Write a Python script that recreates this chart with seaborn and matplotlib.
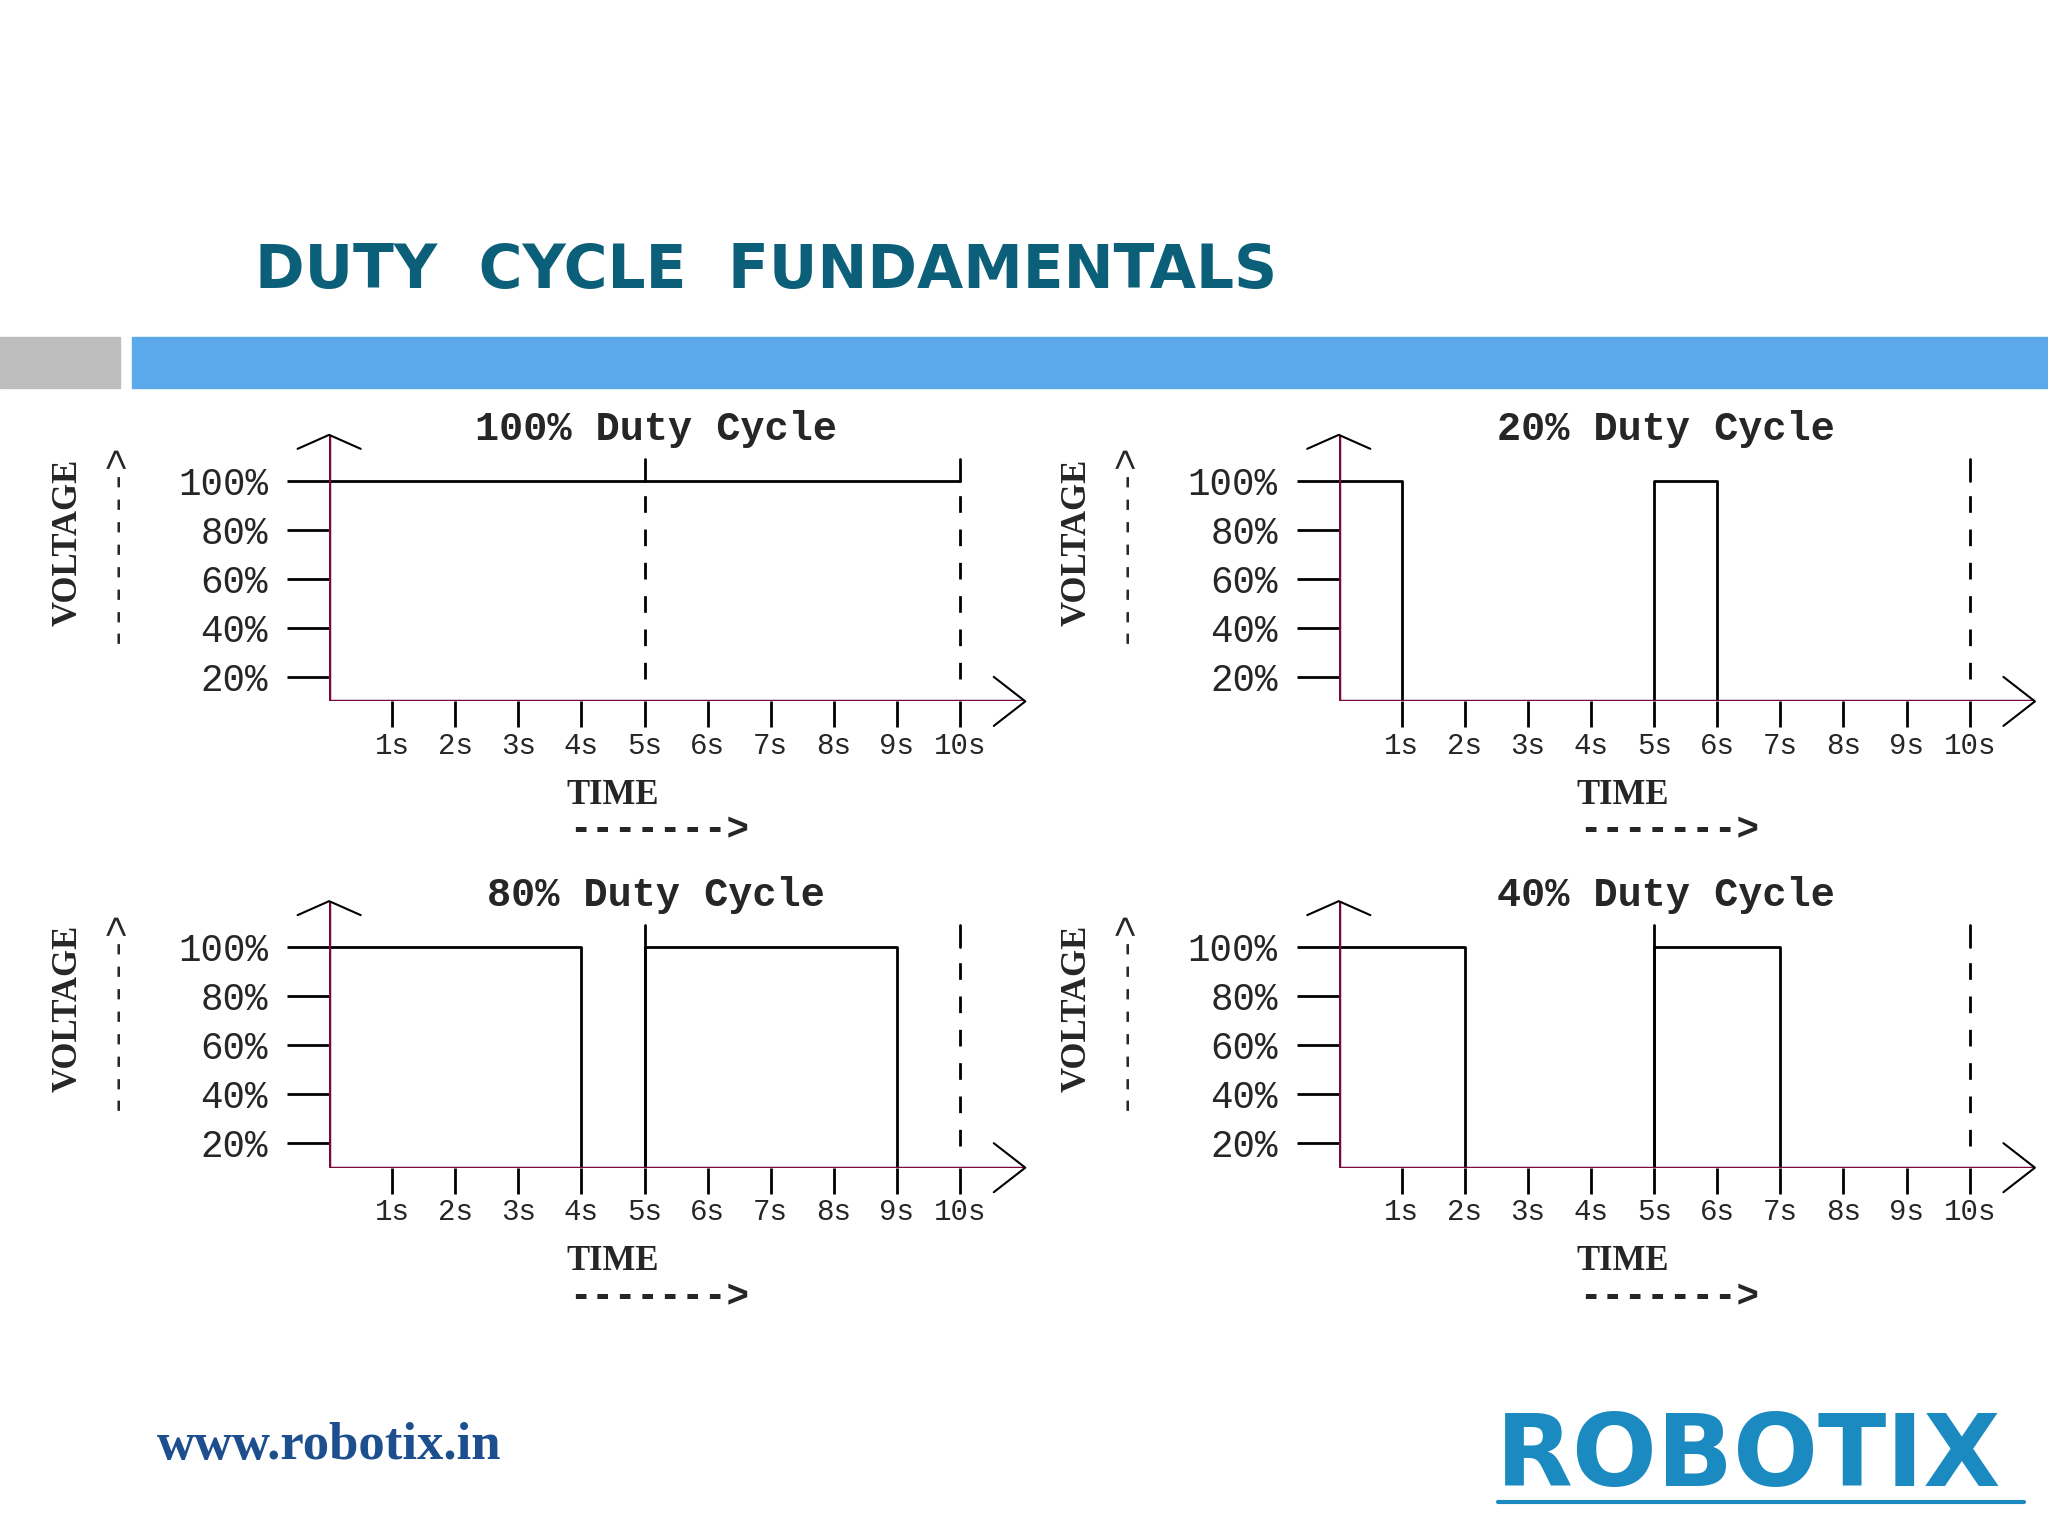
import matplotlib
matplotlib.use("Agg")
import matplotlib.pyplot as plt
import seaborn as sns
import pandas as pd
import numpy as np

sns.set_style("white")
plt.rcParams['font.family'] = ['DejaVu Sans']

titles = ["100% Duty Cycle", "20% Duty Cycle", "80% Duty Cycle", "40% Duty Cycle"]
# step signals: times and high/low states (1=high, 0=low)
times = [0, 1, 2, 3, 4, 5, 6, 7, 8, 9, 10]
states_100 = [1, 1, 1, 1, 1, 1, 1, 1, 1, 1, 1]
states_20 = [1, 0, 0, 0, 0, 1, 0, 0, 0, 0, 0]
states_80 = [1, 1, 1, 1, 0, 1, 1, 1, 1, 0, 0]
states_40 = [1, 1, 0, 0, 0, 1, 1, 0, 0, 0, 0]
all_states = [states_100, states_20, states_80, states_40]
dashed_at = [[5, 10], [10], [10], [10]]
tall_solid = [[], [], [5], [5]]
ytick_vals = [20, 40, 60, 80, 100]
ytick_labels = ["20%", "40%", "60%", "80%", "100%"]
xtick_vals = list(range(1, 11))
xtick_labels = [f"{i}s" for i in xtick_vals]

W, H = 1568, 1176
fig = plt.figure(figsize=(20.48, 15.36), dpi=100)
fig.patch.set_facecolor("white")

def fx(x): return x / W
def fy(y): return 1 - y / H

# header
fig.text(fx(195), fy(208), "DUTY  CYCLE  FUNDAMENTALS", color="#0b5f78", fontsize=43,
         fontweight="bold", va="center", ha="left", family="DejaVu Sans")
fig.patches.append(plt.Rectangle((0, fy(297)), fx(92), fy(258) - fy(297), color="#bdbdbd",
                                 transform=fig.transFigure))
fig.patches.append(plt.Rectangle((fx(101), fy(297)), 1 - fx(101), fy(258) - fy(297), color="#5ba8ea",
                                 transform=fig.transFigure))

AX = "#7a0a3c"
mono = "Liberation Mono"
offsets = [(0, 0), (773, 0), (0, 357), (773, 357)]
for k, (dx, dy) in enumerate(offsets):
    ax = fig.add_axes([fx(252 + dx), fy(537 + dy), fx(533), (537 - 333) / H])
    ax.set_xlim(0, 533 / 48.3)
    ax.set_ylim(10, 100 + 35 / 1.875)
    low = 10
    st = all_states[k]
    df = pd.DataFrame({"t": times, "v": [100 if s else low for s in st]})
    sns.lineplot(data=df, x="t", y="v", drawstyle="steps-post", color="black", lw=2, ax=ax)
    for d in dashed_at[k]:
        ax.plot([d, d], [19, 100], color="black", lw=2, ls=(0, (6, 6)))
        ax.plot([d, d], [100, 109], color="black", lw=2)
    for d in tall_solid[k]:
        ax.plot([d, d], [low, 109], color="black", lw=2)
    for s in ax.spines.values():
        s.set_visible(False)
    ax.axhline(low, color=AX, lw=2.5, xmax=1)
    ax.axvline(0, color=AX, lw=2.5)
    ax.set_xticks(xtick_vals)
    ax.set_xticklabels(xtick_labels, family=mono, fontsize=21)
    ax.set_yticks(ytick_vals)
    ax.set_yticklabels(ytick_labels, family=mono, fontsize=27)
    ax.tick_params(axis="x", bottom=True, direction="out", length=19, width=2, color="black", pad=3)
    ax.tick_params(axis="y", left=True, direction="out", length=30, width=2, color="black", pad=14)
    ax.set_xlabel(""); ax.set_ylabel("")
    ax.set_facecolor("none")
    # arrows
    ax.plot([-0.5, 0, 0.5], [113, 118.7, 113], color="black", lw=1.5, clip_on=False)
    xr = 533 / 48.3
    ax.plot([xr - 0.5, xr, xr - 0.5], [20, low, 0], color="black", lw=1.5, clip_on=False)
    ax.set_title(titles[k], family=mono, fontweight="bold", fontsize=29, x=0.47, y=0.92, va="bottom")
    # labels
    fig.text(fx(52 + dx), fy(415 + dy), "VOLTAGE", rotation=90, family="Liberation Serif",
             fontweight="bold", fontsize=25, ha="center", va="center")
    fig.text(fx(87 + dx), fy(415 + dy), "-------->", rotation=90, family=mono,
             fontsize=27, ha="center", va="center")
    fig.text(fx(469 + dx), fy(609 + dy), "TIME", family="Liberation Serif",
             fontweight="bold", fontsize=25, ha="center", va="center")
    fig.text(fx(505 + dx), fy(636 + dy), "------->", family=mono, fontweight="bold",
             fontsize=27, ha="center", va="center")

fig.text(fx(120), fy(1107), "www.robotix.in", family="Liberation Serif", fontweight="bold",
         color="#1d4f8f", fontsize=38, va="center")
fig.text(fx(1145), fy(1117), "ROBOTIX", family="DejaVu Sans", fontweight="bold",
         color="#1a8ac0", fontsize=72, va="center")
fig.lines.append(plt.Line2D([fx(1147), fx(1550)], [fy(1150), fy(1150)], color="#1a8ac0", lw=3,
                            transform=fig.transFigure))

fig.savefig("out.png", dpi=100)
